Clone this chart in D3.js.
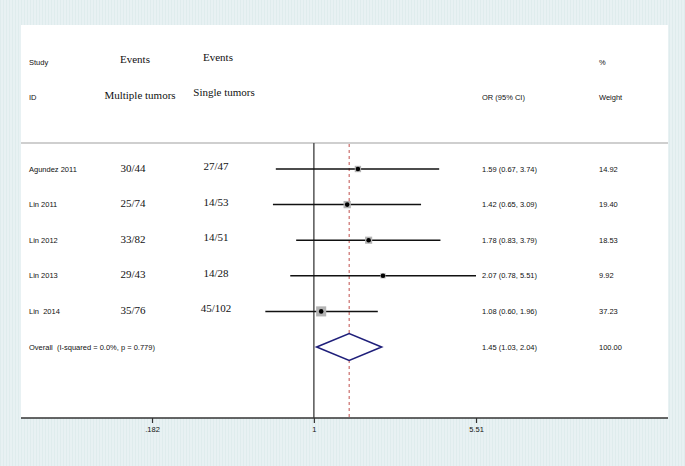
<!DOCTYPE html>
<html>
<head>
<meta charset="utf-8">
<script src="https://cdn.jsdelivr.net/npm/d3@7"></script>
<style>
html,body{margin:0;padding:0;background:#e9f2f3;}
svg{display:block;}
text{white-space:pre;}
</style>
</head>
<body>
<svg id="chart" width="685" height="466"></svg>
<script>
const studies = ["Agundez 2011", "Lin 2011", "Lin 2012", "Lin 2013", "Lin  2014"];
const eventsMultiple = ["30/44", "25/74", "33/82", "29/43", "35/76"];
const eventsSingle = ["27/47", "14/53", "14/51", "14/28", "45/102"];
const orValues = [1.59, 1.42, 1.78, 2.07, 1.08];
const ciLower = [0.67, 0.65, 0.83, 0.78, 0.60];
const ciUpper = [3.74, 3.09, 3.79, 5.51, 1.96];
const weights = ["14.92", "19.40", "18.53", "9.92", "37.23"];
const overallLabel = "Overall  (I-squared = 0.0%, p = 0.779)";
const overall = {or: 1.45, lo: 1.03, hi: 2.04, weight: "100.00"};
const tickValues = [0.182, 1, 5.51];
const tickLabels = [".182", "1", "5.51"];

const svg = d3.select("#chart");
const W = 685, H = 466;
const panel = {x0: 21, x1: 668, y0: 25, y1: 418};

// background stripes
const defs = svg.append("defs");
const pat = defs.append("pattern").attr("id", "stripes").attr("patternUnits", "userSpaceOnUse")
  .attr("width", 3).attr("height", 3);
pat.append("rect").attr("width", 3).attr("height", 3).attr("fill", "#e8f1f3");
pat.append("rect").attr("width", 1).attr("height", 3).attr("fill", "#dfeced");
svg.append("rect").attr("width", W).attr("height", H).attr("fill", "url(#stripes)");
svg.append("rect").attr("x", panel.x0).attr("y", panel.y0)
  .attr("width", panel.x1 - panel.x0).attr("height", panel.y1 - panel.y0).attr("fill", "#fff");

const x = d3.scaleLog().domain([0.182, 5.51]).range([152, 476]);
const rows = d3.range(studies.length + 1);
const y = d3.scalePoint().domain(rows).range([169, 347]);

const sans = "'Liberation Sans', Arial, sans-serif";
const serif = "'Liberation Serif', 'Times New Roman', serif";
const smallSize = "7.5px";
const serifSize = "11px";

function txt(xp, yp, s, font, size, anchor) {
  svg.append("text").attr("x", xp).attr("y", yp).text(s)
    .attr("font-family", font).attr("font-size", size)
    .attr("text-anchor", anchor || "start").attr("dominant-baseline", "central")
    .attr("fill", "#111");
}

// headers
txt(29, 62, "Study", sans, smallSize);
txt(29, 97, "ID", sans, smallSize);
txt(135, 59, "Events", serif, serifSize, "middle");
txt(218, 57, "Events", serif, serifSize, "middle");
txt(140, 95, "Multiple tumors", serif, serifSize, "middle");
txt(224, 92, "Single tumors", serif, serifSize, "middle");
txt(482, 97, "OR (95% CI)", sans, smallSize);
txt(599, 62, "%", sans, smallSize);
txt(599, 97, "Weight", sans, smallSize);

// separator
svg.append("line").attr("x1", panel.x0).attr("x2", panel.x1).attr("y1", 143).attr("y2", 143)
  .attr("stroke", "#cfcfcf").attr("stroke-width", 2);

// null line and overall dashed line
svg.append("line").attr("x1", x(1)).attr("x2", x(1)).attr("y1", 143).attr("y2", panel.y1)
  .attr("stroke", "#555").attr("stroke-width", 1.5);
svg.append("line").attr("x1", x(overall.or)).attr("x2", x(overall.or)).attr("y1", 144).attr("y2", panel.y1)
  .attr("stroke", "#c0504d").attr("stroke-width", 1).attr("stroke-dasharray", "3,3");

const f2 = d3.format(".2f");

studies.forEach((s, i) => {
  const yy = y(i);
  txt(29, yy, s, sans, smallSize);
  txt(133, yy - 1.5, eventsMultiple[i], serif, serifSize, "middle");
  txt(216, yy - 3, eventsSingle[i], serif, serifSize, "middle");
  // CI line
  svg.append("line").attr("x1", x(ciLower[i])).attr("x2", x(ciUpper[i]))
    .attr("y1", yy).attr("y2", yy).attr("stroke", "#111").attr("stroke-width", 1.5);
  // weight square
  const side = 1.65 * Math.sqrt(+weights[i]);
  svg.append("rect").attr("x", x(orValues[i]) - side / 2).attr("y", yy - side / 2)
    .attr("width", side).attr("height", side).attr("fill", "#b3b3b3");
  svg.append("circle").attr("cx", x(orValues[i])).attr("cy", yy).attr("r", 2.3).attr("fill", "#000");
  txt(482, yy, `${f2(orValues[i])} (${f2(ciLower[i])}, ${f2(ciUpper[i])})`, sans, smallSize);
  txt(599, yy, weights[i], sans, smallSize);
});

// overall
const yo = y(studies.length);
txt(29, yo, overallLabel, sans, smallSize);
const dh = 13.5;
svg.append("path")
  .attr("d", `M${x(overall.lo)},${yo} L${x(overall.or)},${yo - dh} L${x(overall.hi)},${yo} L${x(overall.or)},${yo + dh} Z`)
  .attr("fill", "#fff").attr("stroke", "#1f1f7a").attr("stroke-width", 1.6);
txt(482, yo, `${f2(overall.or)} (${f2(overall.lo)}, ${f2(overall.hi)})`, sans, smallSize);
txt(599, yo, overall.weight, sans, smallSize);

// axis
svg.append("line").attr("x1", panel.x0).attr("x2", panel.x1).attr("y1", panel.y1).attr("y2", panel.y1)
  .attr("stroke", "#333").attr("stroke-width", 1.5);
const axis = d3.axisBottom(x).tickValues(tickValues)
  .tickFormat((d, i) => tickLabels[i]).tickSize(5).tickPadding(4);
const ag = svg.append("g").attr("transform", `translate(0,${panel.y1})`).call(axis);
ag.select(".domain").remove();
ag.selectAll(".tick line").attr("stroke", "#333").attr("stroke-width", 1.2);
ag.selectAll(".tick text").attr("font-family", sans).attr("font-size", smallSize).attr("fill", "#111");
</script>
</body>
</html>
